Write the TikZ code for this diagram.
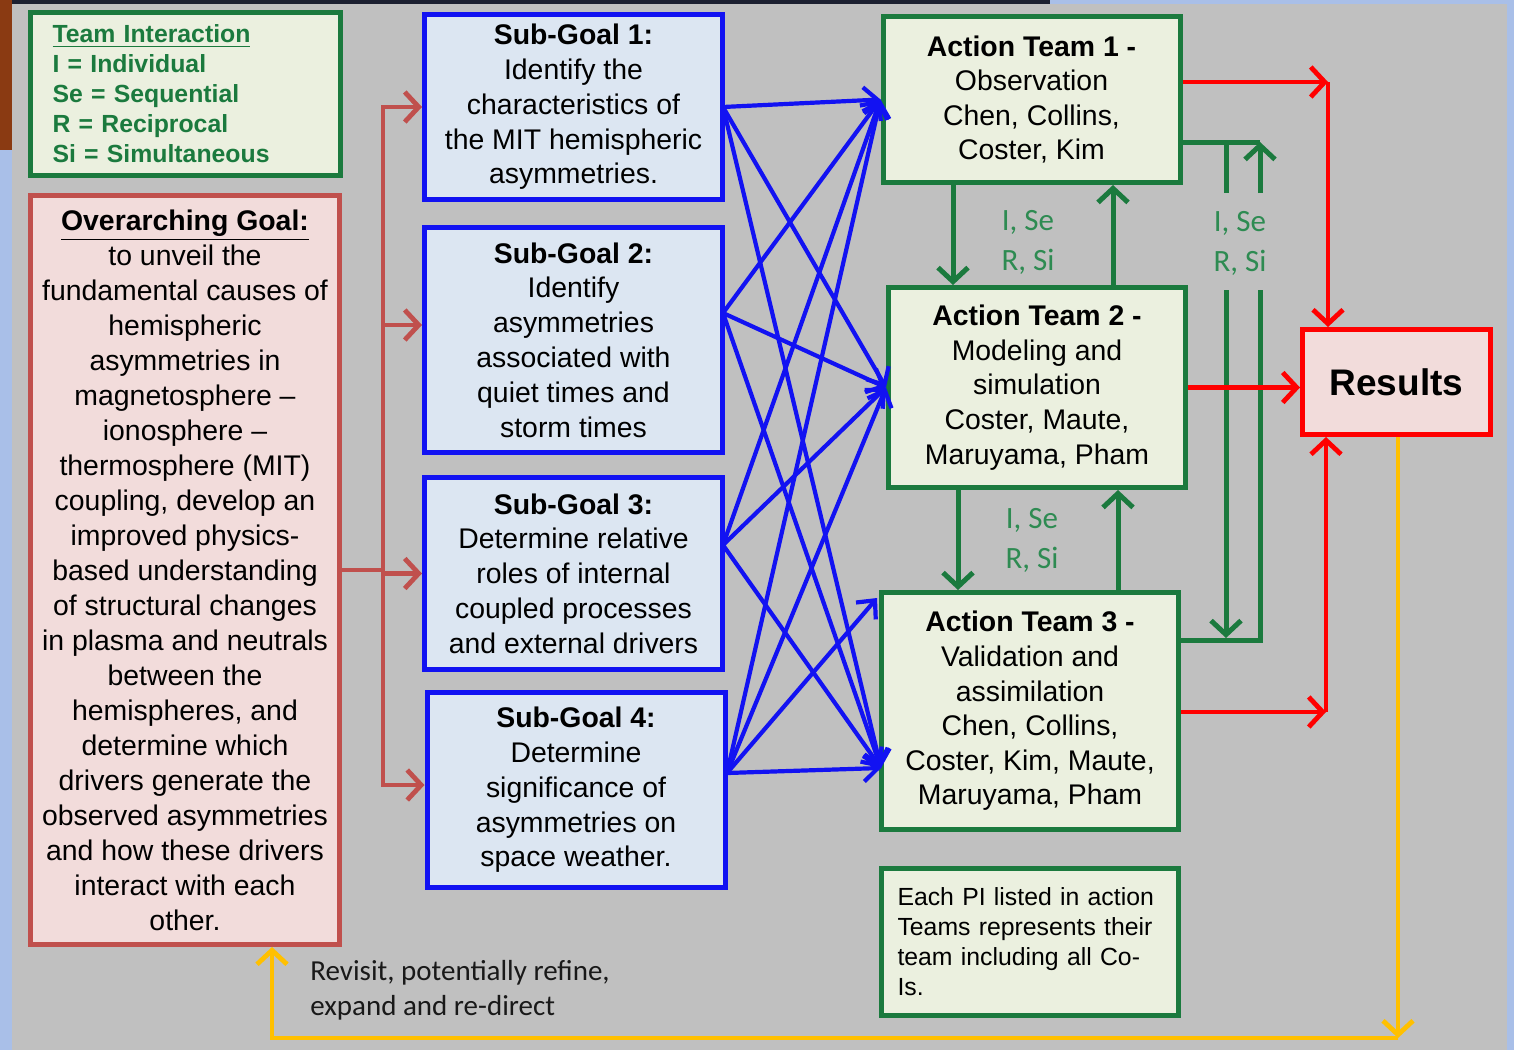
\documentclass[tikz,border=0pt]{standalone}
\usepackage{fontspec}
\setmainfont{Liberation Sans}
\newfontfamily\carlito{Carlito}
\usetikzlibrary{arrows.meta}

\definecolor{panelgray}{HTML}{C0C0C0}
\definecolor{outerblue}{HTML}{A9BFE8}
\definecolor{topdark}{HTML}{1C2030}
\definecolor{edgebrown}{HTML}{8A3A12}
\definecolor{teamgreen}{HTML}{1B7A3E}
\definecolor{teamfill}{HTML}{EBF0DF}
\definecolor{labgreen}{HTML}{2E8B52}
\definecolor{goalred}{HTML}{C0504D}
\definecolor{goalfill}{HTML}{F2DCDB}
\definecolor{subblue}{HTML}{1212F2}
\definecolor{subfill}{HTML}{DCE6F2}
\definecolor{resred}{HTML}{FF0000}
\definecolor{revyellow}{HTML}{FFC000}

\tikzset{
  box/.style={rectangle, line width=2.5pt, inner sep=2pt, align=center, text=black},
  legendbox/.style={box, draw=teamgreen, fill=teamfill, text=teamgreen, align=left,
    text width=133pt, inner xsep=11pt, minimum height=81.5pt,
    font=\bfseries\fontsize{12.4}{15}\selectfont},
  goalbox/.style={box, draw=goalred, fill=goalfill, minimum width=154.5pt,
    minimum height=374.5pt, font=\fontsize{14.2}{17.5}\selectfont},
  subbox/.style={box, draw=subblue, fill=subfill, minimum width=149pt,
    font=\fontsize{14.2}{17.4}\selectfont},
  teambox/.style={box, draw=teamgreen, fill=teamfill, minimum width=148.5pt,
    font=\fontsize{14.2}{17.3}\selectfont},
  notebox/.style={box, draw=teamgreen, fill=teamfill, align=left, text width=132.5pt,
    inner xsep=8pt, minimum height=73.5pt, font=\fontsize{12.4}{15}\selectfont},
  resbox/.style={box, draw=resred, fill=goalfill, minimum width=94pt,
    minimum height=52.5pt, font=\bfseries\fontsize{18.5}{22}\selectfont},
  linklabel/.style={text=labgreen, align=center, inner sep=0pt,
    font=\carlito\fontsize{15.5}{20}\selectfont},
  revlabel/.style={text=black!90, align=left, inner sep=0pt,
    font=\carlito\fontsize{14.5}{17.5}\selectfont},
  opentip/.style={-{Straight Barb[length=7pt,width=15pt]}},
  goalarrow/.style={draw=goalred, line width=2.4pt},
  subarrow/.style={draw=subblue, line width=2.1pt, -{Straight Barb[length=7pt,width=13pt]}},
  teamline/.style={draw=teamgreen, line width=2.5pt},
  resarrow/.style={draw=resred, line width=2.4pt},
  revarrow/.style={draw=revyellow, line width=2.4pt},
}

\begin{document}
\begin{tikzpicture}[x=0.5pt,y=-0.5pt]
\useasboundingbox (0,0) rectangle (1514,1050);
\fill[outerblue] (0,0) rectangle (1514,1050);
\fill[topdark] (0,0) rectangle (1050,4);
\fill[edgebrown] (0,0) rectangle (12,150);
\fill[panelgray] (12,4) rectangle (1507,1050);

\node[legendbox] (legend) at (185.5,94) {\underline{Team Interaction}\\I = Individual\\Se = Sequential\\R = Reciprocal\\Si = Simultaneous};
\node[goalbox] (goal) at (185,570) {\underline{\textbf{Overarching Goal:}}\\to unveil the\\fundamental causes of\\hemispheric\\asymmetries in\\magnetosphere --\\ionosphere --\\thermosphere (MIT)\\coupling, develop an\\improved physics-\\based understanding\\of structural changes\\in plasma and neutrals\\between the\\hemispheres, and\\determine which\\drivers generate the\\observed asymmetries\\and how these drivers\\interact with each\\other.};

\node[subbox, minimum height=92.5pt] (sg1) at (573.5,107) {\textbf{Sub-Goal 1:}\\Identify the\\characteristics of\\the MIT hemispheric\\asymmetries.};
\node[subbox, minimum height=112.5pt] (sg2) at (573.5,340) {\textbf{Sub-Goal 2:}\\Identify\\asymmetries\\associated with\\quiet times and\\storm times};
\node[subbox, minimum height=96pt] (sg3) at (573.5,573.5) {\textbf{Sub-Goal 3:}\\Determine relative\\roles of internal\\coupled processes\\and external drivers};
\node[subbox, minimum height=97.5pt] (sg4) at (576,790) {\textbf{Sub-Goal 4:}\\Determine\\significance of\\asymmetries on\\space weather.};

\node[teambox, minimum height=83pt] (t1) at (1031.5,99.5) {\textbf{Action Team 1 -}\\Observation\\Chen, Collins,\\Coster, Kim};
\node[teambox, minimum height=100pt] (t2) at (1037,387.5) {\textbf{Action Team 2 -}\\Modeling and\\simulation\\Coster, Maute,\\Maruyama, Pham};
\node[teambox, minimum height=118.5pt] (t3) at (1030,711) {\textbf{Action Team 3 -}\\Validation and\\assimilation\\Chen, Collins,\\Coster, Kim, Maute,\\Maruyama, Pham};
\node[notebox] (note) at (1030,942) {Each PI listed in action\\Teams represents their\\team including all Co-\\Is.};

\node[resbox] (res) at (1396.5,382) {Results};

\coordinate (split) at (383,570);
\draw[goalarrow] (goal.east) -- (split);
\draw[goalarrow, opentip] (split) |- (sg1.west);
\draw[goalarrow, opentip] (split) |- ([yshift=7.5pt]sg2.west);
\draw[goalarrow, opentip] (split) |- (sg3.west);
\draw[goalarrow, opentip] (split) |- ([yshift=2.5pt]sg4.west);

\coordinate (s1) at (723,107);
\coordinate (s2) at (723,313);
\coordinate (s3) at (723,545);
\coordinate (s4) at (727,773);
\coordinate (t3in) at (881,768);
\coordinate (t3top) at (877,598);
\draw[subarrow] (s1) -- (t1.west);
\draw[subarrow] (s1) -- (t2.west);
\draw[subarrow] (s1) -- (t3in);
\draw[subarrow] (s2) -- (t1.west);
\draw[subarrow] (s2) -- (t2.west);
\draw[subarrow] (s2) -- (t3in);
\draw[subarrow] (s3) -- (t1.west);
\draw[subarrow] (s3) -- (t2.west);
\draw[subarrow] (s3) -- (t3in);
\draw[subarrow] (s4) -- (t1.west);
\draw[subarrow] (s4) -- (t2.west);
\draw[subarrow] (s4) -- (t3top);
\draw[subarrow] (s4) -- (t3in);

\coordinate (d12) at (953,0);
\coordinate (u12) at (1113,0);
\coordinate (d23) at (958,0);
\coordinate (u23) at (1118,0);
\draw[teamline, opentip] (t1.south -| d12) -- (t2.north -| d12);
\draw[teamline, opentip] (t2.north -| u12) -- (t1.south -| u12);
\draw[teamline, opentip] (t2.south -| d23) -- (t3.north -| d23);
\draw[teamline, opentip] (t3.north -| u23) -- (t2.south -| u23);
\node[linklabel] (lab12) at (1028,242) {I, Se\\R, Si};
\node[linklabel] (lab23) at (1032,540) {I, Se\\R, Si};

\coordinate (a1) at (1226,142);
\coordinate (a2) at (1226,193);
\coordinate (a3) at (1226,290);
\coordinate (a4) at (1226,638);
\coordinate (b1) at (1260,142);
\coordinate (b2) at (1260,193);
\coordinate (b3) at (1260,290);
\coordinate (b4) at (1260,640);
\draw[teamline] (t1.east |- b1) -- (b1);
\draw[teamline] (a1) -- (a2);
\draw[teamline, opentip] (a3) -- (a4);
\draw[teamline] (t3.east |- b4) -- (b4) -- (b3);
\draw[teamline, opentip] (b2) -- (b1);
\node[linklabel] (lab13) at (1240,243) {I, Se\\R, Si};

\coordinate (c1) at (1328,82);
\coordinate (c3) at (1326,712);
\draw[resarrow, opentip] (t1.east |- c1) -- (c1);
\draw[resarrow, opentip] (c1) -- (c1 |- res.north);
\draw[resarrow, opentip] (t2.east) -- (t2.east -| res.west);
\draw[resarrow, opentip] (t3.east |- c3) -- (c3);
\draw[resarrow, opentip] (c3) -- (c3 |- res.south);

\coordinate (y1) at (1398,1038);
\coordinate (y2) at (272,1038);
\draw[revarrow, opentip] (res.south -| y1) -- (y1);
\draw[revarrow, opentip] (y1) -- (y2) -- (goal.south -| y2);
\node[revlabel, anchor=north west] (revisit) at (310,960) {Revisit, potentially refine,\\expand and re-direct};
\end{tikzpicture}
\end{document}
